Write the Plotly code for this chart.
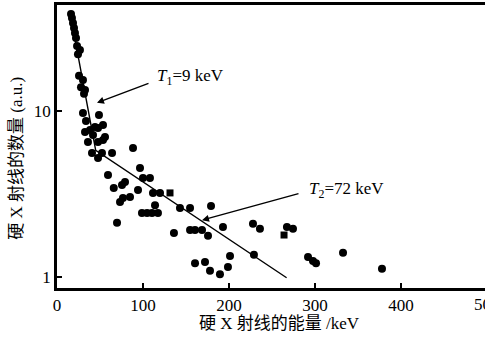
import math
import plotly.graph_objects as go

# energy (keV) and counts (a.u.)
circle_x = [16.3, 17.4, 18.6, 19.8, 20.9, 22.1, 23.3, 26.7, 24.4,
            25.6, 30.2, 27.9, 32.6, 31.4,
            30.2, 48.8, 33.7, 32.6, 38.4, 44.2, 47.7, 53.5, 41.9, 55.8, 36.0, 47.7, 53.5,
            40.7, 52.3, 64.0, 47.7,
            88.4, 96.5, 59.3, 66.0, 75.6, 79.1, 100.0, 108.1,
            94.2, 84.9, 76.7, 73.3, 111.6, 119.8, 114.0,
            98.8, 104.7, 110.5, 117.4, 69.8,
            143.0, 154.7, 179.1,
            136.0, 154.7, 160.5, 168.6, 175.6, 193.0,
            227.9, 236.0, 267.4, 274.4,
            201.2, 229.0, 160.5, 172.1, 177.9, 189.5, 198.8,
            291.9, 297.7, 301.2, 332.6, 377.9]
circle_y = [38.4, 36.3, 33.9, 31.6, 29.5, 27.5, 24.6, 23.3, 22.0,
            16.3, 15.4, 13.9, 13.4, 12.7,
            9.72, 9.46, 8.71, 7.47, 7.68, 8.01, 7.9, 8.24, 7.17, 6.97, 6.51, 6.51, 6.69,
            5.58, 5.58, 5.58, 5.21,
            5.98, 4.53, 4.12, 3.44, 3.58, 3.73, 3.95, 3.95,
            3.34, 3.03, 2.99, 2.83, 3.21, 3.21, 2.71,
            2.43, 2.43, 2.43, 2.43, 2.12,
            2.60, 2.60, 2.68,
            1.84, 1.92, 1.92, 1.92, 1.77, 2.00,
            2.09, 1.95, 2.00, 1.95,
            1.34, 1.36, 1.21, 1.23, 1.09, 1.04, 1.15,
            1.32, 1.25, 1.21, 1.40, 1.12]
square_x = [131.4, 264.0]
square_y = [3.21, 1.79]

# fitted exponential segments
fit_x = [15.0, 45.0, 267.0]
fit_y = [39.5, 5.8, 0.99]

x_ticks = [0, 100, 200, 300, 400]
y_ticks = [1, 10]

serif = "Liberation Serif, Noto Sans CJK SC, serif"

fig = go.Figure()
fig.add_trace(go.Scatter(x=fit_x, y=fit_y, mode="lines",
                         line=dict(color="black", width=1.4), hoverinfo="skip"))
fig.add_trace(go.Scatter(x=circle_x, y=circle_y, mode="markers",
                         marker=dict(color="black", size=8, symbol="circle")))
fig.add_trace(go.Scatter(x=square_x, y=square_y, mode="markers",
                         marker=dict(color="black", size=7, symbol="square")))

fig.update_layout(
    width=485, height=346,
    margin=dict(l=57, r=0, t=5, b=58),
    paper_bgcolor="white", plot_bgcolor="white",
    showlegend=False,
    font=dict(family=serif, size=17, color="black"),
    xaxis=dict(range=[0, 497.7], tickvals=x_ticks, ticks="inside", ticklen=5,
               tickwidth=1.5, tickcolor="black", showline=True, linewidth=2.5,
               linecolor="black", mirror=True, showgrid=False, zeroline=False,
               tickfont=dict(family=serif, size=17)),
    yaxis=dict(type="log", range=[-0.0663, 1.6386], tickvals=y_ticks,
               ticktext=[str(v) for v in y_ticks], ticks="inside", ticklen=5,
               tickwidth=1.5, tickcolor="black", showline=True, linewidth=2.5,
               linecolor="black", showgrid=False, zeroline=False,
               tickfont=dict(family=serif, size=17)),
)

annotations = [
    dict(xref="paper", yref="paper", x=0.521, y=-0.125, text="硬 X 射线的能量 /keV",
         showarrow=False, xanchor="center", yanchor="middle",
         font=dict(family=serif, size=17)),
    dict(xref="paper", yref="paper", x=-0.0935, y=0.46, text="硬 X 射线的数量 (a.u.)",
         showarrow=False, textangle=-90, xanchor="center", yanchor="middle",
         font=dict(family=serif, size=17)),
    dict(xref="paper", yref="paper", x=1.0047, y=-0.06, text="500", showarrow=False,
         xanchor="center", yanchor="middle", font=dict(family=serif, size=17)),
    # T1 arrow and label
    dict(x=46.5, y=math.log10(11.2), xref="x", yref="y", text="", showarrow=True,
         ax=53, ay=-20, arrowhead=2, arrowsize=1, arrowwidth=1.4, arrowcolor="black"),
    dict(x=155.8, y=math.log10(16.0), xref="x", yref="y",
         text="<i>T</i><sub>1</sub>=9 keV", showarrow=False,
         font=dict(family=serif, size=17)),
    # T2 arrow and label
    dict(x=168.6, y=math.log10(2.20), xref="x", yref="y", text="", showarrow=True,
         ax=98, ay=-27, arrowhead=2, arrowsize=1, arrowwidth=1.4, arrowcolor="black"),
    dict(x=337.2, y=math.log10(3.34), xref="x", yref="y",
         text="<i>T</i><sub>2</sub>=72 keV", showarrow=False,
         font=dict(family=serif, size=17)),
]
fig.update_layout(annotations=annotations)

fig.write_html("out.html", config={"displayModeBar": False},
               post_script="document.body.style.margin='0';document.body.style.overflow='hidden';")
